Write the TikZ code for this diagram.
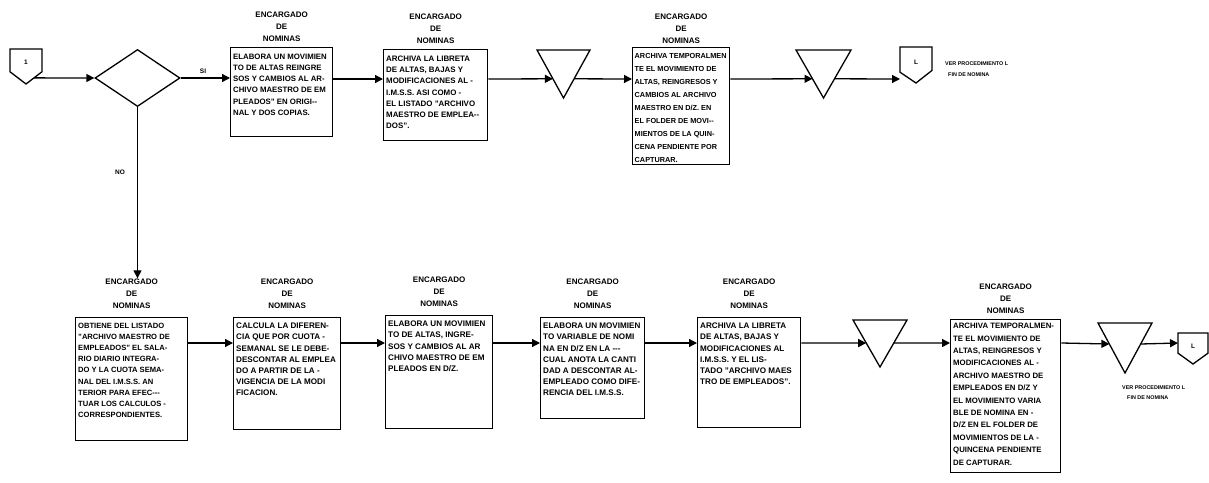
\documentclass[tikz,border=0pt]{standalone}
\usepackage{fontspec}
\setmainfont{Liberation Sans}
\usetikzlibrary{arrows.meta,calc,shapes.geometric}
\newcommand{\boxfont}[2]{\fontsize{#1}{#2}\selectfont\bfseries}
\begin{document}
\begin{tikzpicture}[x=1pt,y=-1pt,
  flow/.style={line width=1.3pt},
  arr/.style={flow,-{Triangle[length=8pt,width=8pt]}},
  procbox/.style={draw,line width=1.3pt,inner sep=0pt,anchor=north west},
  boxtext/.style={anchor=north west,inner sep=0pt,align=left,font=\boxfont{8.1}{11.1}},
  role/.style={anchor=south,inner sep=0pt,align=center,font=\fontsize{8}{12.3}\selectfont\bfseries},
  slot/.style={inner sep=0pt,outer sep=0pt,anchor=north west},
  tag/.style={inner sep=0pt,font=\fontsize{6.5}{7}\selectfont\bfseries},
  note/.style={anchor=north west,inner sep=0pt,align=left,font=\fontsize{5.4}{11}\selectfont\bfseries},
]
\useasboundingbox (0,0) rectangle (1209,482);

% line heights of the two rows
\coordinate (row1) at (0,79);
\coordinate (row2) at (0,343);

% ---------- top row ----------
\node[slot,minimum width=32pt,minimum height=35pt] (c1) at (10,49) {};
\draw[flow] (c1.north west) -- (c1.north east) -- ($(c1.north east)!0.65!(c1.south east)$)
  -- (c1.south) -- ($(c1.north west)!0.65!(c1.south west)$) -- cycle;
\node[tag] (c1t) at ($(c1.center)+(0,-4)$) {1};
\coordinate (c1out) at ($($(c1.north east)!0.65!(c1.south east)$)!0.5!(c1.south)$);

\node[draw,diamond,line width=1.3pt,inner sep=0pt,minimum width=85pt,minimum height=57pt] (d) at (137.5,78) {};
\node[tag] (si) at (203,71) {SI};
\node[tag] (no) at (120,172) {NO};

\node[procbox,minimum width=102pt,minimum height=89pt] (t1) at (230,47) {};
\node[role] (t1r) at ($(t1.north)+(0,-5)$) {ENCARGADO\\DE\\NOMINAS};
\node[boxtext,font=\boxfont{7.8}{11.1}] (t1x) at ($(t1.north west)+(3,7)$) {ELABORA UN MOVIMIEN\\TO DE ALTAS REINGRE\\SOS Y CAMBIOS AL AR-\\CHIVO MAESTRO DE EM\\PLEADOS" EN ORIGI-{}-\\NAL Y DOS COPIAS.};

\node[procbox,minimum width=104pt,minimum height=91pt] (t2) at (383,49) {};
\node[role] (t2r) at ($(t2.north)+(0,-5)$) {ENCARGADO\\DE\\NOMINAS};
\node[boxtext,font=\boxfont{7.9}{11.1}] (t2x) at ($(t2.north west)+(3,7)$) {ARCHIVA LA LIBRETA\\DE ALTAS, BAJAS Y\\MODIFICACIONES AL -\\I.M.S.S. ASI COMO -\\EL LISTADO "ARCHIVO\\MAESTRO DE EMPLEA-{}-\\DOS".};

\node[slot,minimum width=53pt,minimum height=48pt] (v1) at (537,50) {};
\draw[flow] (v1.north west) -- (v1.north east) -- (v1.south) -- cycle;

\node[procbox,minimum width=97pt,minimum height=117pt] (t3) at (632,47) {};
\node[role] (t3r) at ($(t3.north)+(0,-3)$) {ENCARGADO\\DE\\NOMINAS};
\node[boxtext,font=\boxfont{7.3}{13}] (t3x) at ($(t3.north west)+(2.5,6)$) {ARCHIVA TEMPORALMEN\\TE EL MOVIMIENTO DE\\ALTAS, REINGRESOS Y\\CAMBIOS AL ARCHIVO\\MAESTRO EN D/Z. EN\\EL FOLDER DE MOVI-{}-\\MIENTOS DE LA QUIN-\\CENA PENDIENTE POR\\CAPTURAR.};

\node[slot,minimum width=55pt,minimum height=48pt] (v2) at (796,50) {};
\draw[flow] (v2.north west) -- (v2.north east) -- (v2.south) -- cycle;

\node[slot,minimum width=32pt,minimum height=36pt] (c2) at (900,47) {};
\draw[flow] (c2.north west) -- (c2.north east) -- ($(c2.north east)!0.65!(c2.south east)$)
  -- (c2.south) -- ($(c2.north west)!0.7!(c2.south west)$) -- cycle;
\node[tag] (c2t) at ($(c2.center)+(0,-3)$) {L};
\node[note] (c2n) at (945,62) {VER PROCEDIMIENTO L\\\hspace*{3pt}FIN DE NOMINA};

% top row connectors
\draw[arr] (c1out) -- (d.west);
\draw[arr] (d.east) -- (t1.west |- d.east);
\draw[arr] (t1.east |- row1) -- (t2.west |- row1);
\draw[arr] (t2.east |- row1) -- ($(v1.north west)!0.6!(v1.south)$);
\draw[arr] ($(v1.north east)!0.6!(v1.south)$) -- (t3.west |- row1);
\draw[arr] (t3.east |- row1) -- ($(v2.north west)!0.6!(v2.south)$);
\draw[arr] ($(v2.north east)!0.6!(v2.south)$) -- (c2.west |- row1);

% ---------- bottom row ----------
\node[procbox,minimum width=112pt,minimum height=123pt] (b1) at (75,317) {};
\node[role] (b1r) at ($(b1.north)+(0,-8)$) {ENCARGADO\\DE\\NOMINAS};
\node[boxtext,font=\boxfont{7.6}{11.1}] (b1x) at ($(b1.north west)+(3,6)$) {OBTIENE DEL LISTADO\\"ARCHIVO MAESTRO DE\\EMPLEADOS" EL SALA-\\RIO DIARIO INTEGRA-\\DO Y LA CUOTA SEMA-\\NAL DEL I.M.S.S. AN\\TERIOR PARA EFEC-{}-{}-\\TUAR LOS CALCULOS -\\CORRESPONDIENTES.};

\node[procbox,minimum width=107pt,minimum height=112pt] (b2) at (233,317) {};
\node[role] (b2r) at ($(b2.north)+(0,-8)$) {ENCARGADO\\DE\\NOMINAS};
\node[boxtext] (b2x) at ($(b2.north west)+(3,6)$) {CALCULA LA DIFEREN-\\CIA QUE POR CUOTA -\\SEMANAL SE LE DEBE-\\DESCONTAR AL EMPLEA\\DO A PARTIR DE LA -\\VIGENCIA DE LA MODI\\FICACION.};

\node[procbox,minimum width=107pt,minimum height=113pt] (b3) at (385,315) {};
\node[role] (b3r) at ($(b3.north)+(0,-8)$) {ENCARGADO\\DE\\NOMINAS};
\node[boxtext] (b3x) at ($(b3.north west)+(3,6)$) {ELABORA UN MOVIMIEN\\TO DE ALTAS, INGRE-\\SOS Y CAMBIOS AL AR\\CHIVO MAESTRO DE EM\\PLEADOS EN D/Z.};

\node[procbox,minimum width=104pt,minimum height=101pt] (b4) at (540,317) {};
\node[role] (b4r) at ($(b4.north)+(0,-8)$) {ENCARGADO\\DE\\NOMINAS};
\node[boxtext] (b4x) at ($(b4.north west)+(3,6)$) {ELABORA UN MOVIMIEN\\TO VARIABLE DE NOMI\\NA EN D/Z EN LA -{}-{}-\\CUAL ANOTA LA CANTI\\DAD A DESCONTAR AL-\\EMPLEADO COMO DIFE-\\RENCIA DEL I.M.S.S.};

\node[procbox,minimum width=103pt,minimum height=110pt] (b5) at (697,317) {};
\node[role] (b5r) at ($(b5.north)+(0,-8)$) {ENCARGADO\\DE\\NOMINAS};
\node[boxtext] (b5x) at ($(b5.north west)+(3,6)$) {ARCHIVA LA LIBRETA\\DE ALTAS, BAJAS Y\\MODIFICACIONES AL\\I.M.S.S. Y EL LIS-\\TADO "ARCHIVO MAES\\TRO DE EMPLEADOS".};

\node[slot,minimum width=54pt,minimum height=47pt] (v3) at (853,320) {};
\draw[flow] (v3.north west) -- (v3.north east) -- (v3.south) -- cycle;

\node[procbox,minimum width=110pt,minimum height=153pt] (b6) at (950,319) {};
\node[role] (b6r) at ($(b6.north)+(0,-5)$) {ENCARGADO\\DE\\NOMINAS};
\node[boxtext,font=\boxfont{7.8}{12.4}] (b6x) at ($(b6.north west)+(3,4)$) {ARCHIVA TEMPORALMEN-\\TE EL MOVIMIENTO DE\\ALTAS, REINGRESOS Y\\MODIFICACIONES AL -\\ARCHIVO MAESTRO DE\\EMPLEADOS EN D/Z Y\\EL MOVIMIENTO VARIA\\BLE DE NOMINA EN -\\D/Z EN EL FOLDER DE\\MOVIMIENTOS DE LA -\\QUINCENA PENDIENTE\\DE CAPTURAR.};

\node[slot,minimum width=54pt,minimum height=50pt] (v4) at (1098,323) {};
\draw[flow] (v4.north west) -- (v4.north east) -- (v4.south) -- cycle;

\node[slot,minimum width=30pt,minimum height=31pt] (c3) at (1178,333) {};
\draw[flow] (c3.north west) -- (c3.north east) -- ($(c3.north east)!0.65!(c3.south east)$)
  -- (c3.south) -- ($(c3.north west)!0.65!(c3.south west)$) -- cycle;
\node[tag] (c3t) at ($(c3.center)+(0,-2)$) {L};
\node[note,font=\fontsize{5.4}{10}\selectfont\bfseries] (c3n) at (1122,386) {VER PROCEDIMIENTO L\\\hspace*{5pt}FIN DE NOMINA};

% vertical branch and bottom row connectors
\draw[arr] (d.south) -- (d.south |- b1r.north);
\draw[arr] (b1.east |- row2) -- (b2.west |- row2);
\draw[arr] (b2.east |- row2) -- (b3.west |- row2);
\draw[arr] (b3.east |- row2) -- (b4.west |- row2);
\draw[arr] (b4.east |- row2) -- (b5.west |- row2);
\draw[arr] (b5.east |- row2) -- ($(v3.north west)!0.49!(v3.south)$);
\draw[arr] ($(v3.north east)!0.49!(v3.south)$) -- (b6.west |- row2);
\draw[arr] (b6.east |- row2) -- ($(v4.north west)!0.42!(v4.south)$);
\draw[arr] ($(v4.north east)!0.42!(v4.south)$) -- (c3.west |- row2);
\end{tikzpicture}
\end{document}
